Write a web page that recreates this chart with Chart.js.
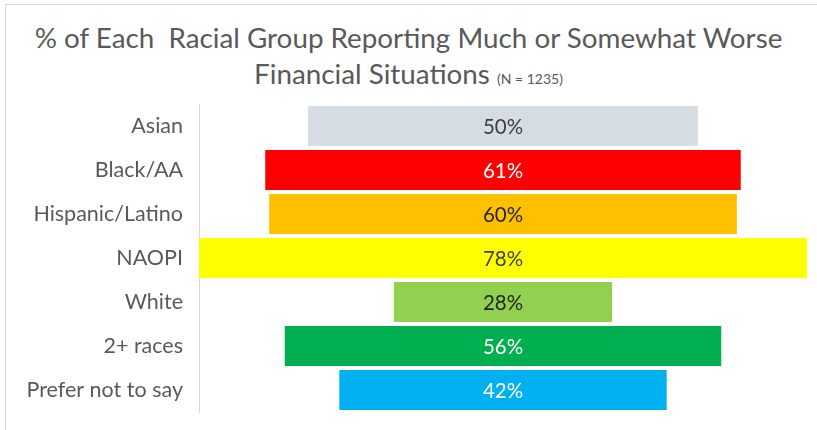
<!DOCTYPE html>
<html>
<head>
<meta charset="utf-8">
<script src="https://cdn.jsdelivr.net/npm/chart.js@4.4.0/dist/chart.umd.min.js"></script>
<style>
    html, body { margin: 0; padding: 0; background: #ffffff; }
    #wrap { position: relative; width: 817px; height: 430px; overflow: hidden; }
    #frame { position: absolute; left: 5px; top: 4px; width: 830px; height: 440px; border: 1px solid #d9d9d9; box-sizing: border-box; }
    #title {
        position: absolute; left: 0; top: 20px; width: 817px; text-align: center;
        font-family: Lato, "Noto Sans", sans-serif; color: #595959;
        font-size: 27.8px; line-height: 36px;
    }
    #title small { font-size: 14px; }
    canvas { position: absolute; left: 0; top: 0; }
</style>
</head>
<body>
<div id="wrap">
    <div id="frame"></div>
    <div id="title">% of Each&nbsp; Racial Group Reporting Much or Somewhat Worse<br>Financial Situations <small>(N = 1235)</small></div>
    <canvas id="funnelChart" width="817" height="430"></canvas>
</div>
<script>
    const groups = ['Asian', 'Black/AA', 'Hispanic/Latino', 'NAOPI', 'White', '2+ races', 'Prefer not to say'];
    const percents = [50, 61, 60, 78, 28, 56, 42];
    const barColors = ['#d6dce4', '#ff0000', '#ffc000', '#ffff00', '#92d050', '#00b050', '#00b0f0'];
    const labelColors = ['#404040', '#ffffff', '#262626', '#404040', '#262626', '#ffffff', '#ffffff'];

    // each bar is centred on zero, so it spans -v/2 .. v/2
    const spans = percents.map(v => [-v / 2, v / 2]);

    const valueLabels = {
        id: 'valueLabels',
        afterDatasetsDraw(chart) {
            const ctx = chart.ctx;
            const meta = chart.getDatasetMeta(0);
            const centre = chart.scales.x.getPixelForValue(0);
            ctx.save();
            ctx.font = '20.5px Lato, "Noto Sans", sans-serif';
            ctx.textAlign = 'center';
            ctx.textBaseline = 'middle';
            meta.data.forEach((bar, i) => {
                ctx.fillStyle = labelColors[i];
                ctx.fillText(percents[i] + '%', centre, bar.y + 1);
            });
            ctx.restore();
        }
    };

    new Chart(document.getElementById('funnelChart'), {
        type: 'bar',
        data: {
            labels: groups,
            datasets: [{
                data: spans,
                backgroundColor: barColors,
                borderWidth: 0,
                borderSkipped: false,
                barPercentage: 0.91,
                categoryPercentage: 1
            }]
        },
        options: {
            indexAxis: 'y',
            responsive: false,
            animation: false,
            layout: { padding: { top: 104, bottom: 18, left: 0, right: 10 } },
            plugins: {
                legend: { display: false },
                tooltip: { enabled: false }
            },
            scales: {
                x: { display: false, min: -39, max: 39 },
                y: {
                    grid: { display: false, drawTicks: false },
                    border: { display: true, color: '#d9d9d9', width: 1 },
                    ticks: {
                        color: '#595959',
                        padding: 16,
                        font: { family: 'Lato, "Noto Sans", sans-serif', size: 21.5 }
                    },
                    afterFit(scale) {
                        scale.width = 199;
                        // tick padding would otherwise eat into the bottom of the plot
                        scale.paddingTop = 0;
                        scale.paddingBottom = 0;
                    }
                }
            }
        },
        plugins: [valueLabels]
    });
</script>
</body>
</html>
